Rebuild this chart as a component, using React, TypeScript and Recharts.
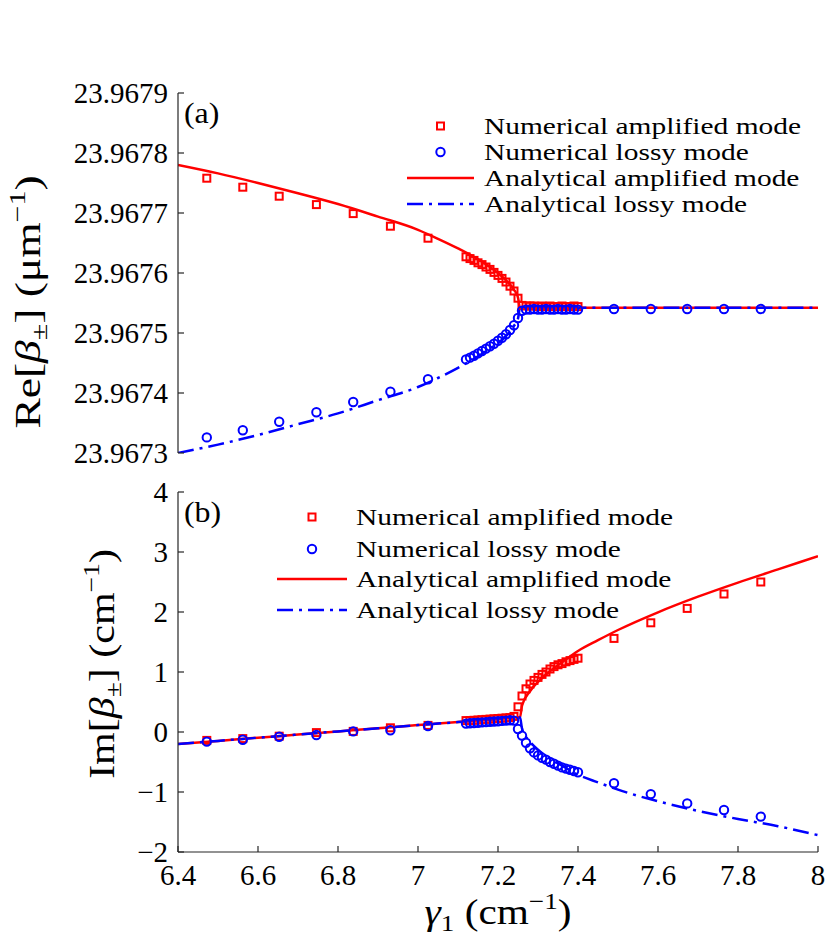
import React from "react";
import { ComposedChart, Line, Scatter, XAxis, YAxis } from "recharts";

// numerical sample positions (γ1 in cm^-1)
const gammaWing = [6.472, 6.562, 6.653, 6.746, 6.838, 6.931, 7.025];
const gammaDense = [
  7.12, 7.13, 7.14, 7.15, 7.16, 7.17, 7.18, 7.19, 7.2, 7.21, 7.22, 7.23, 7.24, 7.25,
  7.26, 7.27, 7.28, 7.29, 7.3, 7.31, 7.32, 7.33, 7.34, 7.35, 7.36, 7.37, 7.38, 7.39, 7.4,
];
const gammaTail = [7.49, 7.582, 7.673, 7.765, 7.857];

// (a) Re[β±] in μm^-1
const reAmpNum = [
  23.967758, 23.967743, 23.967728, 23.967714, 23.967699, 23.967678, 23.967658,
  23.967627, 23.967624, 23.967621, 23.967617, 23.967614, 23.96761, 23.967606, 23.967601,
  23.967596, 23.967591, 23.967585, 23.967578, 23.96757, 23.967558,
  23.967546, 23.967545, 23.967545, 23.967545, 23.967544, 23.967545, 23.967544, 23.967545,
  23.967544, 23.967544, 23.967545, 23.967544, 23.967544, 23.967545, 23.967544,
];
const reLossNum = [
  23.967326, 23.967338, 23.967352, 23.967368, 23.967385, 23.967402, 23.967423,
  23.967456, 23.967459, 23.967462, 23.967466, 23.96747, 23.967474, 23.967478, 23.967482,
  23.967487, 23.967492, 23.967498, 23.967505, 23.967513, 23.967525,
  23.967537, 23.967539, 23.967539, 23.96754, 23.967539, 23.967539, 23.96754, 23.967539,
  23.967539, 23.96754, 23.967539, 23.967539, 23.96754, 23.967539, 23.967539,
  23.96754, 23.96754, 23.96754, 23.96754, 23.96754,
];

// (b) Im[β±] in cm^-1
const imAmpNum = [
  -0.14, -0.11, -0.07, -0.01, 0.01, 0.07, 0.11,
  0.19, 0.19, 0.195, 0.2, 0.205, 0.21, 0.215, 0.22, 0.225, 0.23, 0.235, 0.24, 0.26, 0.42,
  0.6, 0.72, 0.8, 0.86, 0.91, 0.96, 1.0, 1.05, 1.09, 1.12, 1.14, 1.17, 1.19, 1.21, 1.23,
  1.56, 1.82, 2.06, 2.3, 2.5,
];
const imLossNum = [
  -0.16, -0.13, -0.08, -0.05, 0.01, 0.03, 0.1,
  0.14, 0.145, 0.15, 0.155, 0.16, 0.165, 0.17, 0.175, 0.18, 0.185, 0.19, 0.195, 0.19, 0.05,
  -0.06, -0.18, -0.27, -0.34, -0.39, -0.43, -0.46, -0.5, -0.53, -0.56, -0.59, -0.61, -0.63, -0.65, -0.67,
  -0.855, -1.035, -1.19, -1.3, -1.41,
];

// analytical curves
const gammaFit = [
  6.4, 6.5, 6.6, 6.7, 6.8, 6.9, 7.0, 7.05, 7.1, 7.15, 7.18, 7.2, 7.22, 7.23, 7.24, 7.25, 7.255,
  7.26, 7.28, 7.3, 7.33, 7.36, 7.4, 7.45, 7.5, 7.6, 7.7, 7.8, 7.9, 8.0,
];
const reAmpFit = [
  23.96778, 23.967766, 23.96775, 23.967733, 23.967715, 23.967694, 23.967672, 23.967657,
  23.967641, 23.967623, 23.96761, 23.9676, 23.967588, 23.967581, 23.967572, 23.967559, 23.967542,
  23.967542, 23.967542, 23.967542, 23.967542, 23.967542, 23.967542, 23.967542, 23.967542,
  23.967542, 23.967542, 23.967542, 23.967542, 23.967542,
];
const reLossFit = [
  23.9673, 23.967314, 23.96733, 23.967348, 23.967366, 23.967388, 23.96741, 23.967425,
  23.967442, 23.967461, 23.967474, 23.967483, 23.967495, 23.967502, 23.967512, 23.967524, 23.967542,
  23.967542, 23.967542, 23.967542, 23.967542, 23.967542, 23.967542, 23.967542, 23.967542,
  23.967542, 23.967542, 23.967542, 23.967542, 23.967542,
];
const imAmpFit = [
  -0.2, -0.148, -0.095, -0.043, 0.01, 0.062, 0.115, 0.14, 0.165, 0.19, 0.205, 0.218, 0.228,
  0.233, 0.238, 0.243, 0.245,
  0.44, 0.68, 0.834, 1.014, 1.162, 1.35, 1.53, 1.7, 1.995, 2.255, 2.49, 2.71, 2.93,
];
const imLossFit = [
  -0.2, -0.148, -0.095, -0.043, 0.01, 0.062, 0.115, 0.14, 0.165, 0.19, 0.205, 0.218, 0.228,
  0.233, 0.238, 0.243, 0.245,
  0.06, -0.16, -0.294, -0.444, -0.562, -0.71, -0.84, -0.96, -1.155, -1.315, -1.45, -1.57, -1.72,
];

const gammaTicks = [6.4, 6.6, 6.8, 7, 7.2, 7.4, 7.6, 7.8, 8];
const reTicks = [23.9673, 23.9674, 23.9675, 23.9676, 23.9677, 23.9678, 23.9679];
const imTicks = [-2, -1, 0, 1, 2, 3, 4];

const legendLabels = [
  "Numerical amplified mode",
  "Numerical lossy mode",
  "Analytical amplified mode",
  "Analytical lossy mode",
];

const FONT = "'Liberation Serif', 'Times New Roman', Times, serif";
const AXIS = "#262626";
const RED = "#ff0000";
const BLUE = "#0000ff";
const DASHDOT = "16 6 3 6";

const toPoints = (xs: number[], ys: number[]) => ys.map((y, i) => ({ x: xs[i], y }));

const gammaNumAll = [...gammaWing, ...gammaDense, ...gammaTail];

const Square = (props: any) => {
  const { cx, cy } = props;
  if (cx == null || cy == null) return null;
  return <rect x={cx - 3.5} y={cy - 3.5} width={7} height={7} fill="none" stroke={RED} strokeWidth={2} />;
};

const Ring = (props: any) => {
  const { cx, cy } = props;
  if (cx == null || cy == null) return null;
  return <circle cx={cx} cy={cy} r={4.2} fill="none" stroke={BLUE} strokeWidth={2} />;
};

const tickStyle = { fill: "#000", fontSize: 29, fontFamily: FONT };

interface PanelProps {
  top: number;
  height: number;
  marginTop: number;
  marginBottom: number;
  xHeight: number;
  xLabels: boolean;
  yDomain: [number, number];
  yTicks: number[];
  yFmt: (v: number) => string;
  amp: { x: number; y: number }[];
  loss: { x: number; y: number }[];
  ampFit: { x: number; y: number }[];
  lossFit: { x: number; y: number }[];
}

const Panel: React.FC<PanelProps> = (p) => {
  return (
    <div style={{ position: "absolute", left: 0, top: p.top }}>
      <ComposedChart
        width={830}
        height={p.height}
        margin={{ top: p.marginTop, right: 12, bottom: p.marginBottom, left: 0 }}
      >
        <XAxis
          xAxisId="b"
          dataKey="x"
          type="number"
          domain={[6.4, 8]}
          ticks={gammaTicks}
          interval={0}
          allowDataOverflow
          height={p.xHeight}
          tickSize={-6}
          tickMargin={18}
          tick={p.xLabels ? tickStyle : false}
          tickFormatter={(v: number) => String(v)}
          stroke={AXIS}
          strokeWidth={1.2}
        />
        <XAxis
          xAxisId="t"
          orientation="top"
          dataKey="x"
          type="number"
          domain={[6.4, 8]}
          ticks={gammaTicks}
          interval={0}
          allowDataOverflow
          height={0}
          tickSize={-6}
          tick={false}
          stroke={AXIS}
          strokeWidth={1.2}
        />
        <YAxis
          yAxisId="l"
          dataKey="y"
          type="number"
          domain={p.yDomain}
          ticks={p.yTicks}
          interval={0}
          allowDataOverflow
          width={178}
          tickSize={-6}
          tickMargin={16}
          tick={tickStyle}
          tickFormatter={p.yFmt}
          stroke={AXIS}
          strokeWidth={1.2}
        />
        <YAxis
          yAxisId="r"
          orientation="right"
          dataKey="y"
          type="number"
          domain={p.yDomain}
          ticks={p.yTicks}
          interval={0}
          allowDataOverflow
          width={0}
          tickSize={-6}
          tick={false}
          stroke={AXIS}
          strokeWidth={1.2}
        />
        <Scatter xAxisId="b" yAxisId="l" data={p.amp} shape={Square} isAnimationActive={false} />
        <Scatter xAxisId="b" yAxisId="l" data={p.loss} shape={Ring} isAnimationActive={false} />
        <Line
          xAxisId="b"
          yAxisId="l"
          data={p.ampFit}
          dataKey="y"
          type="monotone"
          stroke={RED}
          strokeWidth={2.5}
          dot={false}
          activeDot={false}
          isAnimationActive={false}
        />
        <Line
          xAxisId="b"
          yAxisId="l"
          data={p.lossFit}
          dataKey="y"
          type="monotone"
          stroke={BLUE}
          strokeWidth={2.5}
          strokeDasharray={DASHDOT}
          dot={false}
          activeDot={false}
          isAnimationActive={false}
        />
      </ComposedChart>
    </div>
  );
};

const LegendBlock: React.FC<{ x1: number; x2: number; tx: number; rows: number[] }> = ({ x1, x2, tx, rows }) => {
  const mx = (x1 + x2) / 2;
  return (
    <g>
      <rect x={mx - 3.5} y={rows[0] - 3.5} width={7} height={7} fill="none" stroke={RED} strokeWidth={2} />
      <circle cx={mx} cy={rows[1]} r={4.2} fill="none" stroke={BLUE} strokeWidth={2} />
      <line x1={x1} x2={x2} y1={rows[2]} y2={rows[2]} stroke={RED} strokeWidth={2.5} />
      <line x1={x1} x2={x2} y1={rows[3]} y2={rows[3]} stroke={BLUE} strokeWidth={2.5} strokeDasharray={DASHDOT} />
      {legendLabels.map((t, i) => (
        <text
          key={t}
          transform={`translate(${tx},${rows[i] + 8}) scale(1.28,1)`}
          fontSize={23}
          fontFamily={FONT}
          fill="#000"
        >
          {t}
        </text>
      ))}
    </g>
  );
};

const fmtRe = (v: number) => v.toFixed(4);
const fmtIm = (v: number) => (v < 0 ? "\u2212" + Math.abs(v) : String(v));

export default function App() {
  return (
    <div style={{ position: "absolute", left: 0, top: 0, width: 830, height: 938, background: "#fff" }}>
      <Panel
        top={0}
        height={470}
        marginTop={93}
        marginBottom={17}
        xHeight={0}
        xLabels={false}
        yDomain={[23.9673, 23.9679]}
        yTicks={reTicks}
        yFmt={fmtRe}
        amp={toPoints([...gammaWing, ...gammaDense], reAmpNum)}
        loss={toPoints(gammaNumAll, reLossNum)}
        ampFit={toPoints(gammaFit, reAmpFit)}
        lossFit={toPoints(gammaFit, reLossFit)}
      />
      <Panel
        top={470}
        height={468}
        marginTop={22}
        marginBottom={0}
        xHeight={86}
        xLabels={true}
        yDomain={[-2, 4]}
        yTicks={imTicks}
        yFmt={fmtIm}
        amp={toPoints(gammaNumAll, imAmpNum)}
        loss={toPoints(gammaNumAll, imLossNum)}
        ampFit={toPoints(gammaFit, imAmpFit)}
        lossFit={toPoints(gammaFit, imLossFit)}
      />
      <svg
        width={830}
        height={938}
        style={{ position: "absolute", left: 0, top: 0, pointerEvents: "none" }}
      >
        <text transform="translate(184,123) scale(1.1,1)" fontSize={29} fontFamily={FONT}>(a)</text>
        <text transform="translate(184,522) scale(1.1,1)" fontSize={29} fontFamily={FONT}>(b)</text>
        <LegendBlock x1={407} x2={474} tx={484} rows={[126, 152, 178, 204]} />
        <LegendBlock x1={277} x2={347} tx={356} rows={[517, 549, 579, 610]} />
        <text transform="translate(40,302) rotate(-90) scale(1.3,1)" textAnchor="middle" fontSize={35} fontFamily={FONT}>
          Re[<tspan fontStyle="italic">β</tspan>
          <tspan fontSize={23} dy={7}>±</tspan>
          <tspan dy={-7}>] (μm</tspan>
          <tspan fontSize={23} dy={-15}>−1</tspan>
          <tspan dy={15}>)</tspan>
        </text>
        <text transform="translate(114,664) rotate(-90) scale(1.2,1)" textAnchor="middle" fontSize={35} fontFamily={FONT}>
          Im[<tspan fontStyle="italic">β</tspan>
          <tspan fontSize={23} dy={7}>±</tspan>
          <tspan dy={-7}>] (cm</tspan>
          <tspan fontSize={23} dy={-15}>−1</tspan>
          <tspan dy={15}>)</tspan>
        </text>
        <text transform="translate(498,924) scale(1.18,1)" textAnchor="middle" fontSize={35} fontFamily={FONT}>
          <tspan fontStyle="italic">γ</tspan>
          <tspan fontSize={23} dy={7}>1</tspan>
          <tspan dy={-7}> (cm</tspan>
          <tspan fontSize={23} dy={-15}>−1</tspan>
          <tspan dy={15}>)</tspan>
        </text>
      </svg>
    </div>
  );
}
